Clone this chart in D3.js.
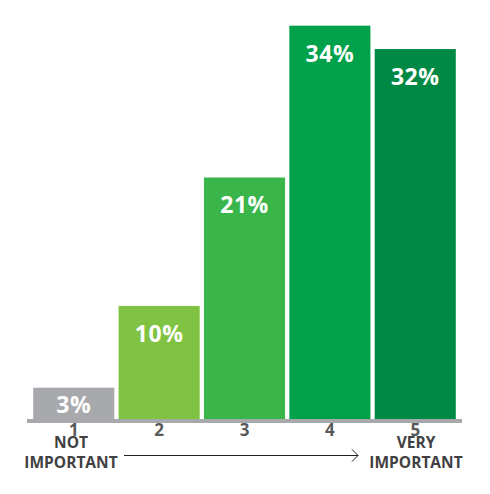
<!DOCTYPE html>
<html><head><meta charset="utf-8">
<script src="https://cdn.jsdelivr.net/npm/d3@7/dist/d3.min.js"></script>
<style>html,body{margin:0;padding:0;background:#fff;}svg{display:block;}</style>
</head><body>
<svg id="c" width="490" height="494"></svg>
<script>
const categories = ["1","2","3","4","5"];
const values = [3,10,21,34,32];
const colors = ["#a7a9ac","#80c342","#39b54a","#00a14b","#008944"];
const leftLabel = ["NOT","IMPORTANT"];
const rightLabel = ["VERY","IMPORTANT"];

const svg = d3.select("#c");
const x = d3.scaleBand().domain(categories).range([31.5, 457.5]).paddingInner(0.05).paddingOuter(0.02);
const y = d3.scaleLinear().domain([0, 34]).range([422.7, 25.7]);

svg.selectAll("rect.bar").data(values).join("rect")
  .attr("class","bar")
  .attr("x",(d,i)=>x(categories[i]))
  .attr("width",x.bandwidth())
  .attr("y",d=>y(d))
  .attr("height",d=>y(0)-y(d))
  .attr("fill",(d,i)=>colors[i]);

// axis line
svg.append("rect").attr("x",27).attr("y",419).attr("width",435).attr("height",4).attr("fill","#a7a9ac");

svg.selectAll("text.val").data(values).join("text")
  .attr("class","val")
  .attr("x",(d,i)=>x(categories[i])+x.bandwidth()/2)
  .attr("y",d=> d<5 ? y(d)+25 : y(d)+36)
  .attr("text-anchor","middle")
  .attr("font-family","'Open Sans', sans-serif")
  .attr("font-weight","bold")
  .attr("font-size","23px")
  .attr("letter-spacing","0.5px")
  .attr("fill","#fff")
  .text(d=>d+"%");

const xAxis = d3.axisBottom(x).tickSize(0).tickPadding(0);
const g = svg.append("g").attr("transform","translate(0,423)").call(xAxis);
g.select(".domain").remove();
g.selectAll("text")
  .attr("dy",null).attr("y",13)
  .attr("font-family","'Open Sans', sans-serif")
  .attr("font-weight","bold")
  .attr("font-size","17px")
  .attr("fill","#58595b");

function twoLine(lines, cx){
  const t = svg.append("text").attr("text-anchor","middle")
    .attr("font-family","'Open Sans', sans-serif")
    .attr("font-weight","bold").attr("font-size","15.5px").attr("fill","#414042");
  lines.forEach((s,i)=>t.append("tspan").attr("x",cx).attr("y",448+i*20).text(s));
}
twoLine(leftLabel, 71);
twoLine(rightLabel, 416);

// arrow
svg.append("line").attr("x1",124).attr("x2",358).attr("y1",455.5).attr("y2",455.5)
  .attr("stroke","#231f20").attr("stroke-width",1);
svg.append("path").attr("d","M352,449.5 L358,455.5 L352,461.5")
  .attr("fill","none").attr("stroke","#231f20").attr("stroke-width",1);
</script>
</body></html>
